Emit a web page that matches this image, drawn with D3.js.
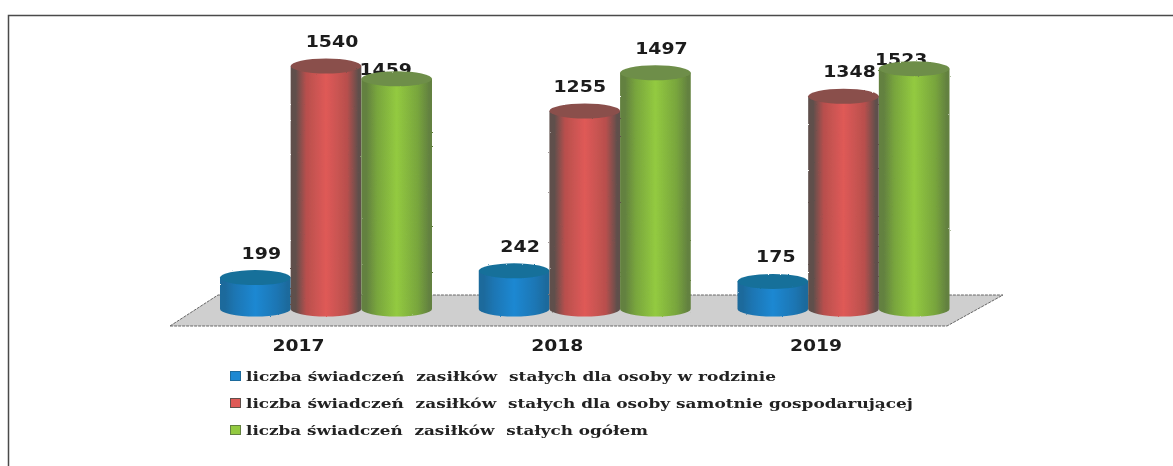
<!DOCTYPE html>
<html><head><meta charset="utf-8">
<script src="https://cdn.jsdelivr.net/npm/d3@7"></script>
<style>
html,body{margin:0;padding:0;background:#fff}
svg{display:block}
text{font-family:"DejaVu Sans",sans-serif;fill:#1a1a1a}
.lbl{font-size:15px;font-weight:600}
.axis text{font-size:15px;font-weight:700;fill:#1c1c1c;font-family:"DejaVu Sans",sans-serif}
.leg{font-size:13px;font-family:"DejaVu Serif",serif;font-weight:600;fill:#222}
</style></head><body>
<script>
const categories = ["2017","2018","2019"];
const rodzinie = [199,242,175];
const samotnie = [1540,1255,1348];
const ogolem = [1459,1497,1523];
const seriesNames = [
 "liczba świadczeń  zasiłków  stałych dla osoby w rodzinie",
 "liczba świadczeń  zasiłków  stałych dla osoby samotnie gospodarującej",
 "liczba świadczeń  zasiłków  stałych ogółem"];
const seriesValues = [rodzinie,samotnie,ogolem];
const palette = [
 {id:"b",edge:"#1d6a9c",dark:"#1a76b4",mid:"#1b88d2",top:"#17709a"},
 {id:"r",edge:"#5e4f4c",dark:"#b84f4d",mid:"#df5a57",top:"#8a4f4c"},
 {id:"g",edge:"#63813f",dark:"#78a53e",mid:"#93ca3f",top:"#6e8e48"}];
const legendWidths=[530,667,402];
// label nudges for labels the original squeezes against their neighbours
const nudge={"1459":[-17,15],"1523":[-19,15],"1255":[-11,0],"175":[-3,0]};

const W=1173,H=466;
const svg=d3.select("body").append("svg").attr("width",W).attr("height",H);
const defs=svg.append("defs");
palette.forEach(p=>{
  const g=defs.append("linearGradient").attr("id","g"+p.id);
  [[0,p.edge],[.07,p.edge],[.22,p.dark],[.5,p.mid],[.8,p.dark],[.96,p.edge],[1,p.edge]].forEach(s=>
    g.append("stop").attr("offset",s[0]).attr("stop-color",s[1]));
});
const rough=defs.append("filter").attr("id","rough").attr("x","-5%").attr("y","-5%").attr("width","110%").attr("height","110%");
rough.append("feTurbulence").attr("type","fractalNoise").attr("baseFrequency",.5).attr("numOctaves",1).attr("seed",3).attr("result","n");
rough.append("feDisplacementMap").attr("in","SourceGraphic").attr("in2","n").attr("scale",2);
defs.append("filter").attr("id","soft").append("feGaussianBlur").attr("stdDeviation",.35);

// frame
svg.append("path").attr("d",`M8.5 466V15.5H${W}`).attr("fill","none").attr("stroke","#4a4a4a").attr("stroke-width",1.5);

const xCat=d3.scalePoint().domain(categories).range([298,815.5]);
const xSer=d3.scaleBand().domain(d3.range(3)).range([-78,134]).padding(0);
const y=d3.scaleLinear().domain([0,1540]).range([309,66]);
const bw=xSer.bandwidth(), ry=7.5;

// floor
svg.append("polygon").attr("points","170,326 218,295 1003,295 947,326")
  .attr("fill","#cfcfcf").attr("stroke","#666").attr("stroke-width",1).attr("stroke-dasharray","3 1");

// value labels sit behind the cylinders
const flat=[];
categories.forEach((c,i)=>seriesValues.forEach((s,j)=>flat.push({c,j,v:s[i]})));
const lblG=svg.append("g").attr("filter","url(#soft)");
lblG.selectAll("text").data(flat).join("text").attr("class","lbl")
  .attr("text-anchor","middle")
  .attr("transform",d=>{
    const n=nudge[d.v]||[0,0];
    const px=xCat(d.c)+xSer(d.j)+bw/2+6+n[0], py=y(d.v)-19+n[1];
    return `translate(${px},${py}) scale(1.26,1)`;
  }).text(d=>d.v);

// cylinders
const cyl=svg.append("g").attr("filter","url(#rough)");
const bars=cyl.selectAll("g").data(flat).join("g");
bars.append("path").attr("d",d=>{
  const x0=xCat(d.c)+xSer(d.j), x1=x0+bw, t=y(d.v), b=y(0);
  return `M${x0} ${t}V${b}A${bw/2} ${ry} 0 0 0 ${x1} ${b}V${t}Z`;
}).attr("fill",d=>`url(#g${palette[d.j].id})`);
bars.append("ellipse").attr("cx",d=>xCat(d.c)+xSer(d.j)+bw/2).attr("cy",d=>y(d.v))
  .attr("rx",bw/2).attr("ry",ry).attr("fill",d=>palette[d.j].top);

// category axis
const ax=svg.append("g").attr("class","axis").attr("transform","translate(0,335)")
  .attr("filter","url(#soft)")
  .call(d3.axisBottom(xCat).tickSize(0).tickPadding(5));
ax.select(".domain").remove();
ax.selectAll("text").attr("transform","scale(1.25,1)");

// legend
const leg=svg.append("g").attr("filter","url(#soft)");
const rowY=d3.scalePoint().domain(d3.range(3)).range([376,430]);
seriesNames.forEach((t,i)=>{
  leg.append("rect").attr("x",230.5).attr("y",rowY(i)-4.5).attr("width",10).attr("height",9)
    .attr("fill",palette[i].mid).attr("stroke",palette[i].edge);
  leg.append("text").attr("class","leg").attr("x",246).attr("y",rowY(i)+5)
    .attr("textLength",legendWidths[i]).attr("lengthAdjust","spacingAndGlyphs")
    .style("white-space","pre").text(t);
});
</script></body></html>
